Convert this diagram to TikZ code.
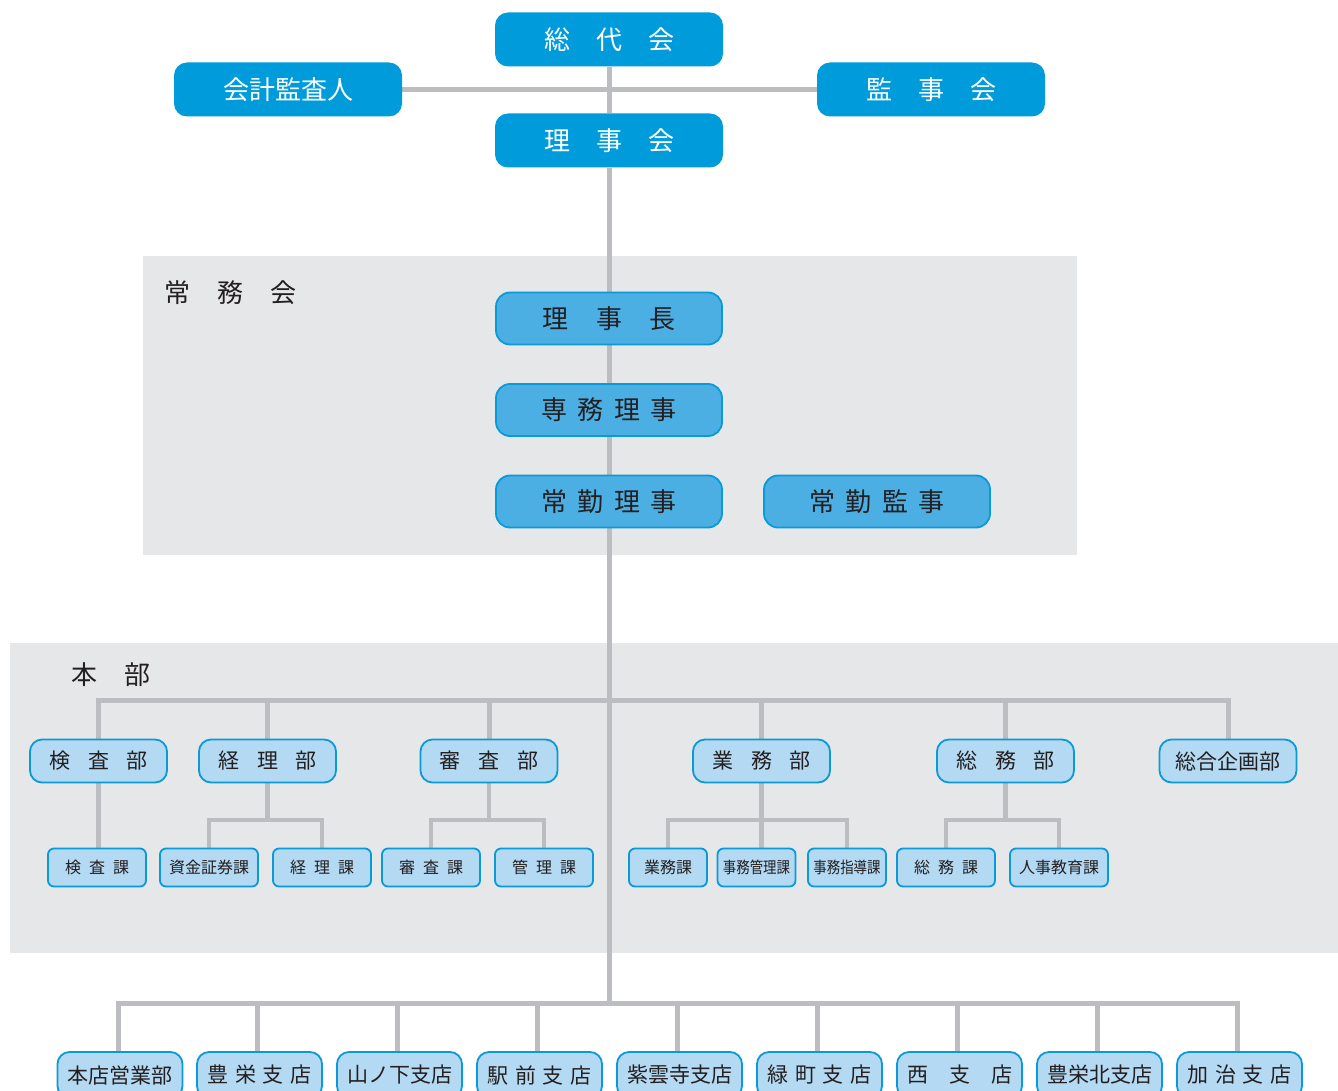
\documentclass[tikz,border=0pt]{standalone}
\usepackage{fontspec}
\usepackage{graphicx}
\newfontfamily\jp{Noto Sans CJK JP}
\definecolor{topblue}{HTML}{009BDB}
\definecolor{midblue}{HTML}{4CAFE3}
\definecolor{edgeblue}{HTML}{0A9AD8}
\definecolor{lightblue}{HTML}{B4D9F2}
\definecolor{panelgray}{HTML}{E6E7E9}
\definecolor{linegray}{HTML}{BCBDC0}
\definecolor{ink}{HTML}{231F20}
\newcommand\gp[1]{\kern#1em}
\newcommand\cond[1]{\scalebox{0.84}[1]{#1}}
\pgfdeclarelayer{panel}
\pgfdeclarelayer{lines}
\pgfsetlayers{panel,lines,main}
\tikzset{
  topbox/.style={rounded corners=13pt, fill=topblue, text=white, minimum width=228pt, minimum height=54pt, inner sep=0pt, font=\jp\fontsize{26}{26}\selectfont},
  midbox/.style={rounded corners=14pt, fill=midblue, draw=edgeblue, line width=1.8pt, minimum width=226pt, minimum height=52pt, inner sep=0pt, text=ink, font=\jp\fontsize{26}{26}\selectfont},
  deptbox/.style={rounded corners=12pt, fill=lightblue, draw=edgeblue, line width=1.8pt, minimum width=137pt, minimum height=43pt, inner sep=0pt, text=ink, font=\jp\fontsize{21}{21}\selectfont},
  secbox/.style={rounded corners=6pt, fill=lightblue, draw=edgeblue, line width=1.8pt, minimum width=98pt, minimum height=38pt, inner sep=0pt, text=ink, font=\jp\fontsize{16}{16}\selectfont},
  secnarrow/.style={secbox, minimum width=78pt},
  branchbox/.style={rounded corners=12pt, fill=lightblue, draw=edgeblue, line width=1.8pt, minimum width=125pt, minimum height=46pt, inner sep=0pt, text=ink, font=\jp\fontsize{21}{21}\selectfont},
  panellabel/.style={anchor=west, inner sep=0pt, text=ink, font=\jp\fontsize{26}{26}\selectfont},
  conn/.style={draw=linegray, line width=5pt},
  subconn/.style={draw=linegray, line width=4.5pt},
}
\begin{document}
\begin{tikzpicture}[x=1pt,y=-1pt]
\useasboundingbox (0,0) rectangle (1338,1091);
% top
\node[topbox] (sodai) at (609,39.5) {総\gp{1}代\gp{1}会};
\node[topbox] (kaikei) at (288,89.5) {会計監査人};
\node[topbox] (kanjikai) at (931,89.5) {監\gp{1}事\gp{1}会};
\node[topbox] (rijikai) at (609,140.5) {理\gp{1}事\gp{1}会};
% joumukai
\node[midbox] (rijicho) at (609,318.5) {理\gp{1.05}事\gp{1.05}長};
\node[midbox] (senmu) at (609,410) {専\gp{0.4}務\gp{0.4}理\gp{0.4}事};
\node[midbox] (jokinriji) at (609,501.5) {常\gp{0.4}勤\gp{0.4}理\gp{0.4}事};
\node[midbox] (jokinkanji) at (877,501.5) {常\gp{0.4}勤\gp{0.4}監\gp{0.4}事};
\node[panellabel] (lbljomu) at (164,293) {常\gp{1.05}務\gp{1.05}会};
% honbu
\node[panellabel] (lblhonbu) at (71,675) {本\gp{1.05}部};
\node[deptbox] (kensa) at (98.5,761) {検\gp{0.85}査\gp{0.85}部};
\node[deptbox] (keiri) at (267.5,761) {経\gp{0.85}理\gp{0.85}部};
\node[deptbox] (shinsa) at (489,761) {審\gp{0.85}査\gp{0.85}部};
\node[deptbox] (gyomu) at (761.5,761) {業\gp{0.85}務\gp{0.85}部};
\node[deptbox] (somu) at (1005.5,761) {総\gp{0.85}務\gp{0.85}部};
\node[deptbox] (sogo) at (1228,761) {総合企画部};
\node[secbox] (kensaka) at (97,867.5) {検\gp{0.5}査\gp{0.5}課};
\node[secbox] (shikin) at (209,867.5) {資金証券課};
\node[secbox] (keirika) at (322,867.5) {経\gp{0.5}理\gp{0.5}課};
\node[secbox] (shinsaka) at (431,867.5) {審\gp{0.5}査\gp{0.5}課};
\node[secbox] (kanrika) at (544,867.5) {管\gp{0.5}理\gp{0.5}課};
\node[secnarrow] (gyomuka) at (668,867.5) {業務課};
\node[secnarrow] (jimukanri) at (756.5,867.5) {\cond{事務管理課}};
\node[secnarrow] (jimushido) at (847,867.5) {\cond{事務指導課}};
\node[secbox] (somuka) at (946,867.5) {総\gp{0.5}務\gp{0.5}課};
\node[secbox] (jinji) at (1059,867.5) {人事教育課};
% branches
\node[branchbox] (honten) at (120,1075) {本店営業部};
\node[branchbox] (toyosaka) at (259.5,1075) {豊\gp{0.33}栄\gp{0.33}支\gp{0.33}店};
\node[branchbox] (yamanoshita) at (399.5,1075) {山ノ下支店};
\node[branchbox] (ekimae) at (539.5,1075) {駅\gp{0.33}前\gp{0.33}支\gp{0.33}店};
\node[branchbox] (shiunji) at (679.5,1075) {紫雲寺支店};
\node[branchbox] (midori) at (819.5,1075) {緑\gp{0.33}町\gp{0.33}支\gp{0.33}店};
\node[branchbox] (nishi) at (959.5,1075) {西\gp{1}支\gp{1}店};
\node[branchbox] (toyokita) at (1099.5,1075) {豊栄北支店};
\node[branchbox] (kaji) at (1239.5,1075) {加\gp{0.33}治\gp{0.33}支\gp{0.33}店};
% coordinates
\coordinate (hbus) at (609,700);
\coordinate (bus) at (609,1003);
\coordinate (y820) at (0,820);
\begin{pgfonlayer}{panel}
\fill[white] (0,0) rectangle (1338,1091);
\fill[panelgray] (143,256) rectangle (1077,555);
\fill[panelgray] (10,643) rectangle (1338,953);
\end{pgfonlayer}
\begin{pgfonlayer}{lines}
\path[conn] (kaikei) -- (kanjikai);
\path[conn] (sodai) -- (rijikai);
\path[conn] (rijikai) -- (rijicho);
\path[conn] (rijicho) -- (senmu);
\path[conn] (senmu) -- (jokinriji);
\path[conn] (jokinriji.south) -- (bus);
\foreach \d in {kensa,keiri,shinsa,gyomu,somu,sogo}
  \path[conn] (hbus) -| (\d.north);
\path[subconn] (kensa.south) -- (kensaka.north -| kensa.south);
\path[subconn] (keiri.south) -- (keiri.south |- y820) -| (shikin.north);
\path[subconn] (keiri.south |- y820) -| (keirika.north);
\path[subconn] (shinsa.south) -- (shinsa.south |- y820) -| (shinsaka.north);
\path[subconn] (shinsa.south |- y820) -| (kanrika.north);
\path[subconn] (gyomu.south) -- (gyomu.south |- jimukanri.north);
\path[subconn] (gyomu.south |- y820) -| (gyomuka.north);
\path[subconn] (gyomu.south |- y820) -| (jimushido.north);
\path[subconn] (somu.south) -- (somu.south |- y820) -| (somuka.north);
\path[subconn] (somu.south |- y820) -| (jinji.north);
\foreach \b in {honten,toyosaka,yamanoshita,ekimae,shiunji,midori,nishi,toyokita,kaji}
  \path[conn] (bus) -| ([xshift=-2pt]\b.north);
\end{pgfonlayer}
\end{tikzpicture}
\end{document}
